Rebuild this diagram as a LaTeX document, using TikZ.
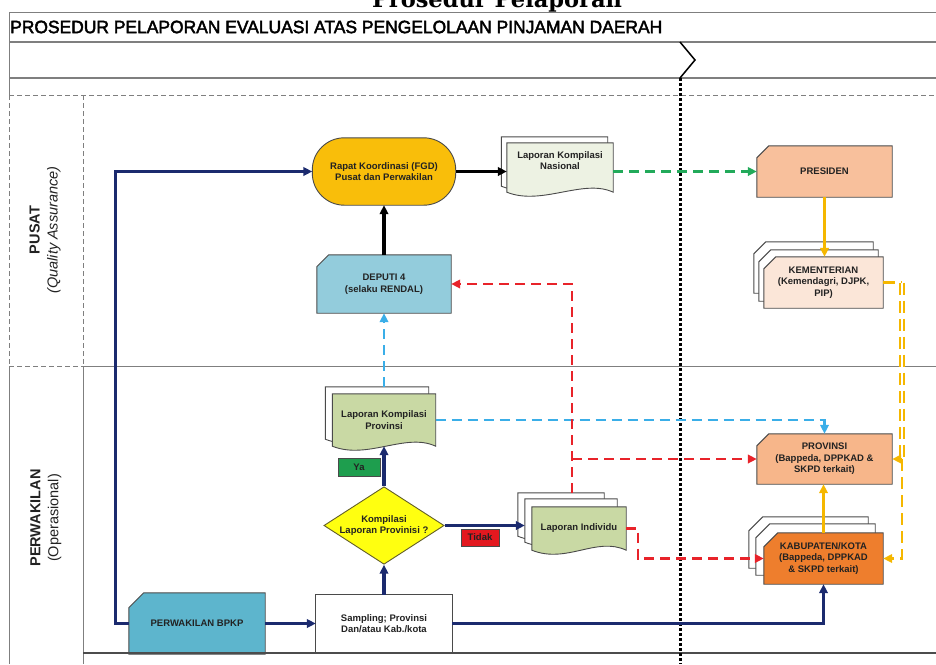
\documentclass[tikz,border=0pt]{standalone}
\usepackage{fontspec}
\usepackage{graphicx}
\setmainfont{Liberation Sans}
\newfontfamily\titlefont{DejaVu Serif}
\newfontfamily\headfont{Liberation Sans}[FakeBold=2.5]
\usetikzlibrary{shapes.geometric,arrows.meta,backgrounds,calc}

\definecolor{edge}{HTML}{4A4A4A}
\definecolor{txt}{HTML}{222222}
\definecolor{navy}{HTML}{1B2A6E}
\definecolor{amber}{HTML}{F9BE0A}
\definecolor{nasfill}{HTML}{EDF2E3}
\definecolor{deputifill}{HTML}{93CCDC}
\definecolor{presfill}{HTML}{F8C09C}
\definecolor{kemfill}{HTML}{FBE6D8}
\definecolor{provfill}{HTML}{F7B68A}
\definecolor{kabfill}{HTML}{EE7E2D}
\definecolor{docgreen}{HTML}{C9D9A4}
\definecolor{bpkpfill}{HTML}{5DB5CD}
\definecolor{diafill}{HTML}{FFFF10}
\definecolor{yagreen}{HTML}{1E9E4E}
\definecolor{tidakred}{HTML}{E3181F}
\definecolor{skyline}{HTML}{3AAEE8}
\definecolor{redline}{HTML}{E8232A}
\definecolor{greenline}{HTML}{22AA5A}
\definecolor{yelline}{HTML}{F5B700}
\definecolor{framegray}{HTML}{7F7F7F}

% document sheet with a wavy lower edge, drawn from a node's anchors
\newcommand\docsheet[2]{%
  \filldraw[shp, fill=#2] (#1.north west) -- (#1.north east) -- (#1.south east)
    .. controls +(-30,-14) and +(35,14) .. (#1.south west) -- cycle;}
% card with a cut upper-left corner
\newcommand\cardsheet[3]{%
  \filldraw[shp, fill=#2] ($(#1.north west)+(0,#3)$) -- ($(#1.north west)+(#3,0)$)
    -- (#1.north east) -- (#1.south east) -- (#1.south west) -- cycle;}

\begin{document}
\begin{tikzpicture}[x=1pt,y=-1pt,
  slot/.style={inner sep=0pt, align=center, text=txt,
    font=\bfseries\fontsize{9.5}{11.5}\selectfont},
  shp/.style={draw=edge, line width=0.9pt},
  arrowend/.style={-{Triangle[length=9pt,width=8.5pt]}},
  flow/.style={navy, line width=3.2pt, arrowend},
  blk/.style={black, line width=3.2pt, arrowend},
  yel/.style={yelline, line width=3.2pt, arrowend},
  dsh/.style={line width=2.4pt, dash pattern=on 10pt off 6pt},
  reddsh/.style={dsh, redline, arrowend},
  skydsh/.style={dsh, skyline, arrowend},
  greendsh/.style={dsh, greenline, arrowend},
  yeldsh/.style={yelline, line width=2.6pt, dash pattern=on 12pt off 6pt},
  lane/.style={framegray, line width=1pt},
  lanedsh/.style={lane, dash pattern=on 5pt off 3pt},
]
\useasboundingbox (0,0) rectangle (936,664);

% ---------- title and frame ----------
\node[anchor=base, inner sep=0pt] (ttl) at (497,7)
  {\resizebox{250pt}{!}{\titlefont\bfseries\fontsize{20}{20}\selectfont Prosedur Pelaporan}};
\draw[lane] (9,12) -- (936,12);
\node[anchor=west, inner sep=0pt] (head) at (10,27)
  {\resizebox{652pt}{12.5pt}{\headfont PROSEDUR PELAPORAN EVALUASI ATAS PENGELOLAAN PINJAMAN DAERAH}};
\draw[lane, line width=1.8pt] (9,42) -- (936,42);
\draw[lane, line width=1.8pt] (9,78) -- (936,78);
\draw[black, line width=1.5pt] (680,42) -- (695,60) -- (680,78);
\draw[lanedsh] (9,95) -- (936,95);
\draw[lane] (9,12) -- (9,95);
\draw[lanedsh] (9,95) -- (9,366);
\draw[lane] (9,366) -- (9,664);
\draw[lanedsh] (83,95) -- (83,366);
\draw[lane] (83,366) -- (83,664);
\draw[lanedsh] (9,366) -- (83,366);
\draw[lane] (83,366) -- (936,366);
\draw[lane, line width=1.4pt, black!70] (83,653) -- (936,653);
\draw[black, line width=3pt, dash pattern=on 3pt off 2pt] (680,78) -- (680,664);

% lane titles
\node[rotate=90, align=center, text=txt, font=\fontsize{14.5}{18}\selectfont] (lpusat) at (45,230)
  {\bfseries PUSAT\\\itshape (Quality Assurance)};
\node[rotate=90, align=center, text=txt, font=\fontsize{14.5}{18}\selectfont] (lperw) at (46,518)
  {\bfseries PERWAKILAN\\(Operasional)};

% ---------- nodes ----------
\node[slot, minimum width=143, minimum height=67] (rapat) at (384,171.5)
  {Rapat Koordinasi (FGD)\\Pusat dan Perwakilan};
\node[slot, minimum width=106, minimum height=49] (lknb) at (554.5,161.5) {};
\node[slot, minimum width=106, minimum height=49] (lkn) at (560,167.5)
  {Laporan Kompilasi\\Nasional\\[2pt]};
\node[slot, minimum width=134, minimum height=58] (deputi) at (384,284)
  {DEPUTI 4\\(selaku RENDAL)};
\node[slot, minimum width=135, minimum height=51] (pres) at (824.5,171.5) {PRESIDEN};
\node[slot, minimum width=119, minimum height=51] (kem3) at (813.5,267.5) {};
\node[slot, minimum width=119, minimum height=51] (kem2) at (818.5,275.5) {};
\node[slot, minimum width=119, minimum height=51] (kem) at (823.5,282.5)
  {KEMENTERIAN\\(Kemendagri, DJPK,\\PIP)};
\node[slot, minimum width=135, minimum height=50] (prov) at (824.5,459)
  {PROVINSI\\(Bappeda, DPPKAD \&\\SKPD terkait)};
\node[slot, minimum width=119, minimum height=51] (kab3) at (808.5,542.5) {};
\node[slot, minimum width=119, minimum height=51] (kab2) at (815.5,549.5) {};
\node[slot, minimum width=119, minimum height=51] (kab) at (823.5,558.5)
  {KABUPATEN/KOTA\\(Bappeda, DPPKAD\\\& SKPD terkait)};
\node[slot, minimum width=103, minimum height=52] (lkpb) at (377,413) {};
\node[slot, minimum width=103, minimum height=52] (lkp) at (384,420)
  {Laporan Kompilasi\\Provinsi};
\node[slot, diamond, aspect=1.55, minimum width=118, minimum height=76, shp, fill=diafill,
  draw=olive!60!black] (dia) at (384,525.5) {Kompilasi\\Laporan Provinisi ?};
\node[slot, minimum width=86, minimum height=43] (li3) at (561,514.5) {};
\node[slot, minimum width=92, minimum height=43] (li2) at (571,520.5) {};
\node[slot, minimum width=94, minimum height=43] (li) at (579,528.5) {Laporan Individu};
\node[slot, minimum width=136, minimum height=57] (samp) at (384,623.5)
  {Sampling; Provinsi\\Dan/atau Kab./kota};
\node[slot, minimum width=136, minimum height=61] (bpkp) at (197,623.5) {PERWAKILAN BPKP};
\node[slot, shp, fill=yagreen, minimum width=42, minimum height=18] (ya) at (359,467) {Ya};
\node[slot, shp, fill=tidakred, minimum width=38, minimum height=17] (tidak) at (480,537.5) {Tidak};

% ---------- shapes behind the labels ----------
\begin{pgfonlayer}{background}
  \filldraw[shp, fill=amber, rounded corners=32pt] (rapat.north west) rectangle (rapat.south east);
  \docsheet{lknb}{white}
  \docsheet{lkn}{nasfill}
  \cardsheet{deputi}{deputifill}{12}
  \cardsheet{pres}{presfill}{12}
  \cardsheet{kem3}{white}{12}
  \cardsheet{kem2}{white}{12}
  \cardsheet{kem}{kemfill}{12}
  \cardsheet{prov}{provfill}{12}
  \cardsheet{kab3}{white}{14}
  \cardsheet{kab2}{white}{14}
  \cardsheet{kab}{kabfill}{14}
  \docsheet{lkpb}{white}
  \docsheet{lkp}{docgreen}
  \docsheet{li3}{white}
  \docsheet{li2}{white}
  \docsheet{li}{docgreen}
  \filldraw[shp, fill=white] (samp.north west) rectangle (samp.south east);
  \cardsheet{bpkp}{bpkpfill}{15}
\end{pgfonlayer}

% ---------- connectors ----------
\coordinate (rx) at (572,0);
\coordinate (kx) at (638,0);
\coordinate (yx) at (902,0);

\draw[flow] (bpkp.west) -- ++(-13,0) |- (rapat.west);
\draw[flow] (bpkp.east) -- (samp.west);
\draw[flow] (samp.north) -- (dia.south);
\draw[flow] (dia.north) -- (lkp.south);
\draw[flow] (dia.east) -- (dia.east -| li2.west);
\draw[flow] (samp.east) -| (kab.south);
\draw[blk] (deputi.north) -- (rapat.south);
\draw[blk] (rapat.east) -- (rapat.east -| lkn.west);

\draw[greendsh] (lkn.east |- pres.west) -- (pres.west);
\draw[yel] (pres.south) -- (pres.south |- kem.north);
\draw[yel] (kab.north) -- (kab.north |- prov.south);

\draw[skydsh] (lkpb.north -| deputi.south) -- (deputi.south);
\draw[skydsh] (lkp.east) -| (prov.north);

\draw[reddsh] (rx |- li3.north) -- (rx |- deputi.east) -- (deputi.east);
\draw[reddsh] (rx |- prov.west) -- (prov.west);
\draw[reddsh] (li.east) -- (kx |- li.east) -- (kx |- kab.west) -- (kab.west);

\draw[yeldsh] (kem.east) -- (kem.east -| yx);
\draw[yeldsh, double=white, double distance=2.4pt, line width=1.8pt] (kem.east -| yx) -- (prov.east -| yx);
\draw[yeldsh, arrowend] (prov.east -| yx) -- (prov.east);
\draw[yeldsh, arrowend] (prov.east -| yx) -- (kab.east -| yx) -- (kab.east);
\end{tikzpicture}
\end{document}
